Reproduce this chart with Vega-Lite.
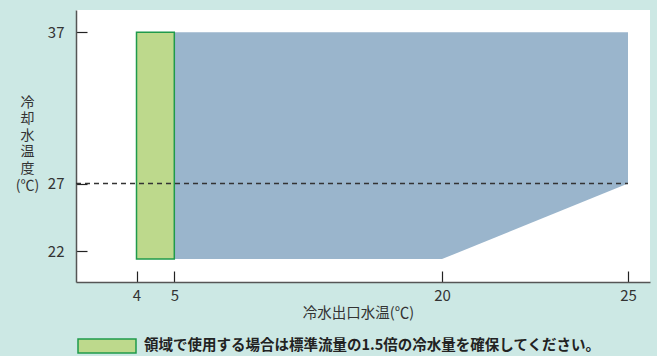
{
  "$schema": "https://vega.github.io/schema/vega-lite/v6.json",
  "width": 574,
  "height": 272,
  "autosize": {"type": "none"},
  "padding": {"left": 76, "top": 10, "right": 7, "bottom": 74},
  "background": "#cce8e4",
  "config": {
    "view": {"fill": "white", "stroke": null},
    "font": "Noto Sans CJK JP"
  },
  "datasets": {
    "blue": [
      {"x": 5, "y": 37, "y2": 21.4},
      {"x": 20, "y": 37, "y2": 21.4},
      {"x": 25, "y": 37, "y2": 27}
    ],
    "green": [
      {"x": 4, "x2": 5, "y": 37, "y2": 21.4, "label": "領域で使用する場合は標準流量の1.5倍の冷水量を確保してください。"}
    ],
    "dash": [
      {"x": 2.35, "x2": 25, "y": 27}
    ]
  },
  "layer": [
    {
      "data": {"name": "blue"},
      "mark": {"type": "area", "orient": "vertical", "color": "#9ab5cc", "interpolate": "linear"},
      "encoding": {
        "x": {
          "field": "x", "type": "quantitative",
          "scale": {"type": "linear", "domain": [2.35, 4, 5, 20, 25, 25.6], "range": [0, 60.5, 98.3, 366, 552, 574], "zero": false, "nice": false},
          "axis": {
            "values": [4, 5, 20, 25],
            "title": "冷水出口水温(℃)",
            "grid": false,
            "domainColor": "#555555",
            "domainWidth": 1.5,
            "tickColor": "#222222",
            "tickSize": -11,
            "tickWidth": 1.2,
            "labelPadding": 17,
            "labelFontSize": 15,
            "labelColor": "#333333",
            "labelFlush": false,
            "labelOverlap": false,
            "titleFontSize": 14.5,
            "titleFontWeight": "normal",
            "titleColor": "#333333",
            "titleX": 282,
            "titleY": 31,
            "titleAlign": "center",
            "titleBaseline": "middle"
          }
        },
        "y": {
          "field": "y", "type": "quantitative",
          "scale": {"type": "linear", "domain": [19.7, 22, 27, 37, 38.47], "range": [272, 241, 173.5, 22.3, 0], "zero": false, "nice": false},
          "axis": {
            "values": [22, 27, 37],
            "title": ["冷", "却", "水", "温", "度", "(℃)"],
            "grid": false,
            "domainColor": "#555555",
            "domainWidth": 1.5,
            "tickColor": "#222222",
            "tickSize": -11,
            "tickWidth": 1.2,
            "labelPadding": 23,
            "labelFontSize": 15,
            "labelColor": "#333333",
            "labelFlush": false,
            "labelOverlap": false,
            "titleFontSize": 14,
            "titleFontWeight": "normal",
            "titleColor": "#333333",
            "titleAngle": 0,
            "titleX": -49,
            "titleY": 85,
            "titleAlign": "center",
            "titleBaseline": "top",
            "titleLineHeight": 16.6
          }
        },
        "y2": {"field": "y2"}
      }
    },
    {
      "data": {"name": "green"},
      "mark": {"type": "rect", "stroke": "#1f9a4b", "strokeWidth": 1.5},
      "encoding": {
        "x": {"field": "x", "type": "quantitative", "scale": {"type": "linear", "domain": [2.35, 4, 5, 20, 25, 25.6], "range": [0, 60.5, 98.3, 366, 552, 574], "zero": false, "nice": false}},
        "x2": {"field": "x2"},
        "y": {"field": "y", "type": "quantitative", "scale": {"type": "linear", "domain": [19.7, 22, 27, 37, 38.47], "range": [272, 241, 173.5, 22.3, 0], "zero": false, "nice": false}},
        "y2": {"field": "y2"},
        "color": {
          "field": "label", "type": "nominal",
          "scale": {"range": ["#bdd98c"]},
          "legend": {
            "orient": "none",
            "legendX": 1,
            "legendY": 306,
            "title": null,
            "padding": 0,
            "symbolType": "M-1,-0.2414H1V0.2414H-1Z",
            "symbolSize": 3364,
            "symbolStrokeColor": "#1f9a4b",
            "symbolStrokeWidth": 1.5,
            "symbolOpacity": 1,
            "labelFontSize": 14.5,
            "labelFontWeight": "bold",
            "labelColor": "#222222",
            "labelLimit": 0,
            "labelOffset": 7,
            "encode": {
              "symbols": {"update": {"stroke": {"value": "#1f9a4b"}, "strokeWidth": {"value": 1.5}, "fill": {"value": "#bdd98c"}, "opacity": {"value": 1}}}
            }
          }
        }
      }
    },
    {
      "data": {"name": "dash"},
      "mark": {"type": "rule", "stroke": "#333333", "strokeWidth": 1.5, "strokeDash": [5, 4]},
      "encoding": {
        "x": {"field": "x", "type": "quantitative", "scale": {"type": "linear", "domain": [2.35, 4, 5, 20, 25, 25.6], "range": [0, 60.5, 98.3, 366, 552, 574], "zero": false, "nice": false}},
        "x2": {"field": "x2"},
        "y": {"field": "y", "type": "quantitative", "scale": {"type": "linear", "domain": [19.7, 22, 27, 37, 38.47], "range": [272, 241, 173.5, 22.3, 0], "zero": false, "nice": false}}
      }
    }
  ]
}
